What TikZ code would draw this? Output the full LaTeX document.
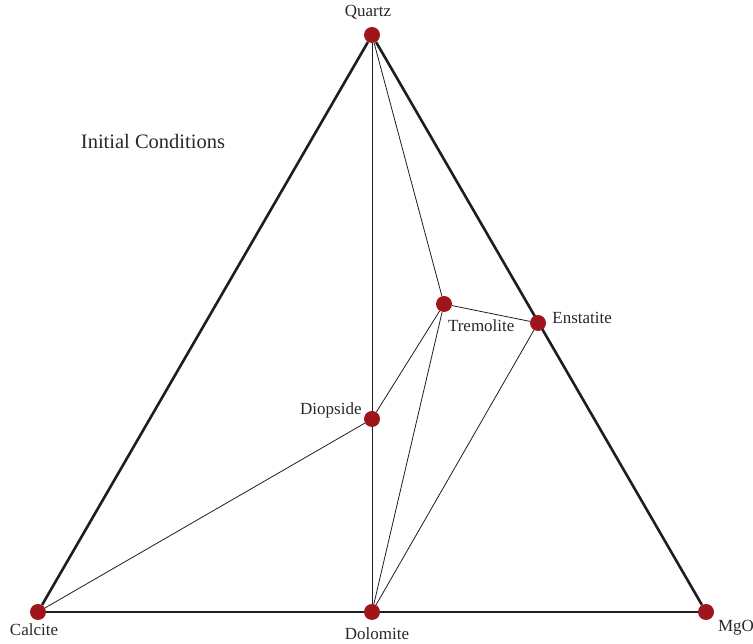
\documentclass[tikz,border=0pt]{standalone}
\usepackage{fontspec}
\setmainfont{Liberation Serif}
\usepackage{xcolor}
\usepackage{tikz}
\usetikzlibrary{positioning,backgrounds}
\definecolor{phasered}{RGB}{158,22,28}
\definecolor{tieline}{RGB}{30,30,30}
\definecolor{lbltext}{RGB}{40,40,40}
\tikzset{
  phase/.style  = {circle, fill=phasered, minimum size=16pt, inner sep=0pt},
  lbl/.style    = {inner sep=0pt, text=lbltext, font=\fontsize{17pt}{20pt}\selectfont},
  side/.style   = {draw=tieline, line width=2.6pt},
  tie/.style    = {draw=tieline, line width=0.8pt},
}

\begin{document}
\begin{tikzpicture}[x=1pt, y=1pt]
  \useasboundingbox (0,0) rectangle (753,644);
  % end members and phases
  \node[phase] (qz) at (372,609) {};
  \node[phase] (ca) at (38,32) {};
  \node[phase] (do) at (372,32) {};
  \node[phase] (mg) at (706,32) {};
  \node[phase] (en) at (538,321) {};
  \node[phase] (tr) at (444,340) {};
  \node[phase] (di) at (372,225) {};
  % labels
  \node[lbl, above=7pt of qz, xshift=-4pt] (qzlbl) {Quartz};
  \node[lbl, below=3pt of ca, xshift=-4pt] (calbl) {Calcite};
  \node[lbl, below=7pt of do, xshift=5pt] (dolbl) {Dolomite};
  \node[lbl, below right=2pt and 6pt of mg] (mglbl) {MgO};
  \node[lbl, right=6pt of en, yshift=5pt] (enlbl) {Enstatite};
  \node[lbl, below right=10pt and -2pt of tr] (trlbl) {Tremolite};
  \node[lbl, left=2pt of di, yshift=9pt] (dilbl) {Diopside};
  \node[lbl, font=\fontsize{20.5pt}{24pt}\selectfont] (title) at (153,503) {Initial Conditions};
  % triangle and tie lines
  \begin{scope}[on background layer]
    \draw[side] (qz) -- (ca);
    \draw[side] (ca) -- (mg);
    \draw[side] (mg) -- (qz);
    \draw[tie] (qz) -- (do);
    \draw[tie] (qz) -- (tr);
    \draw[tie] (tr) -- (en);
    \draw[tie] (tr) -- (di);
    \draw[tie] (tr) -- (do);
    \draw[tie] (en) -- (do);
    \draw[tie] (di) -- (ca);
  \end{scope}
\end{tikzpicture}
\end{document}
